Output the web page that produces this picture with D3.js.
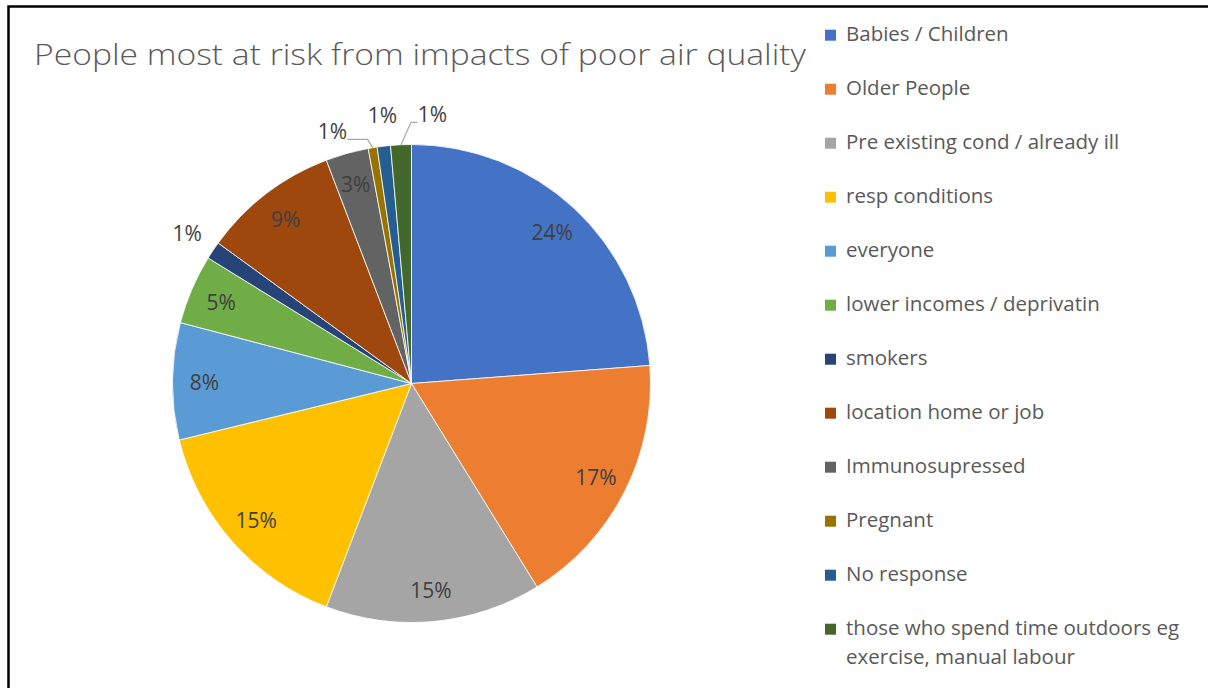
<!DOCTYPE html>
<html>
<head>
<meta charset="utf-8">
<script src="https://cdn.jsdelivr.net/npm/d3@7"></script>
<style>
  html, body { margin: 0; padding: 0; background: #fff; }
  svg { display: block; }
  text { font-family: "Open Sans", "DejaVu Sans", sans-serif; }
</style>
</head>
<body>
<svg id="chart" width="1208" height="688"></svg>
<script>
// Survey answers: who is most at risk from poor air quality (share of responses, %)
const categories = [
  "Babies / Children",
  "Older People",
  "Pre existing cond / already ill",
  "resp conditions",
  "everyone",
  "lower incomes / deprivatin",
  "smokers",
  "location home or job",
  "Immunosupressed",
  "Pregnant",
  "No response",
  "those who spend time outdoors eg exercise, manual labour"
];
const shares = [23.8, 17.4, 14.6, 15.4, 7.9, 4.7, 1.2, 9.2, 2.9, 0.6, 0.9, 1.4];
const palette = [
  "#4472C4", "#ED7D31", "#A5A5A5", "#FFC000", "#5B9BD5", "#70AD47",
  "#264478", "#9E480E", "#636363", "#997300", "#255E91", "#43682B"
];
const chartTitle = "People most at risk from impacts of poor air quality";

const data = categories.map((name, i) => ({ name, value: shares[i], color: palette[i] }));
const total = d3.sum(shares);
const fmtPct = d3.format(".0%");

const svg = d3.select("#chart");
svg.append("rect").attr("width", 1208).attr("height", 688).attr("fill", "#fff");

// frame (left and top edges)
svg.append("path")
  .attr("d", "M8.5,688V6.5H1208")
  .attr("fill", "none")
  .attr("stroke", "#000")
  .attr("stroke-width", 2.5);

// title
svg.append("text")
  .attr("x", 34)
  .attr("y", 65)
  .attr("font-size", 30)
  .attr("font-weight", 300)
  .attr("fill", "#595959")
  .attr("textLength", 772)
  .attr("lengthAdjust", "spacingAndGlyphs")
  .text(chartTitle);

// pie
const cx = 411.5, cy = 383.5, R = 239;
const pie = d3.pie().sort(null).value(d => d.value);
const arcs = pie(data);
const arc = d3.arc().innerRadius(0).outerRadius(R);

const g = svg.append("g").attr("transform", `translate(${cx},${cy})`);
g.selectAll("path.slice")
  .data(arcs)
  .join("path")
  .attr("class", "slice")
  .attr("d", arc)
  .attr("fill", d => d.data.color)
  .attr("stroke", "#fff")
  .attr("stroke-width", 0.8);

// data labels: inside for larger slices, outside for the thin ones
const INNER_R = 207, OUTER_R = 270;
const midAngle = d => (d.startAngle + d.endAngle) / 2;
const isInside = d => d.data.value / total >= 0.02;

const inside = arcs.filter(isInside);
g.selectAll("text.in")
  .data(inside)
  .join("text")
  .attr("class", "in")
  .attr("x", d => INNER_R * Math.sin(midAngle(d)))
  .attr("y", d => -INNER_R * Math.cos(midAngle(d)))
  .attr("text-anchor", "middle")
  .attr("dominant-baseline", "central")
  .attr("font-size", 21)
  .attr("fill", "#404040")
  .text(d => fmtPct(d.data.value / total));

// outside labels: start on the mid angle, then push neighbours apart
const outside = arcs.filter(d => !isInside(d)).map(d => {
  const a = midAngle(d);
  const x = OUTER_R * Math.sin(a), y = -OUTER_R * Math.cos(a);
  return { d, a, x0: x, y0: y, x, y };
});
const minW = 50, minH = 24;
for (let it = 0; it < 300; it++) {
  for (let i = 0; i < outside.length; i++) {
    for (let j = i + 1; j < outside.length; j++) {
      const p = outside[i], q = outside[j];
      const dx = q.x - p.x, dy = q.y - p.y;
      if (Math.abs(dx) < minW && Math.abs(dy) < minH) {
        const s = dx >= 0 ? 1 : -1;
        const push = (minW - Math.abs(dx)) / 2 * 0.5;
        p.x -= s * push; q.x += s * push;
      }
    }
  }
  outside.forEach(o => {
    const lim = Math.min(Math.abs(o.x), OUTER_R - 1);
    o.y = -Math.sqrt(OUTER_R * OUTER_R - lim * lim) * (o.y0 < 0 ? 1 : -1);
  });
}
outside.forEach(o => {
  o.moved = Math.abs(o.x - o.x0) > 6;
  // labels pushed to the left drop a little towards their slice
  if (o.moved && o.x < o.x0) o.y += 6;
});

g.selectAll("path.leader")
  .data(outside.filter(o => o.moved))
  .join("path")
  .attr("class", "leader")
  .attr("fill", "none")
  .attr("stroke", "#a6a6a6")
  .attr("stroke-width", 1.2)
  .attr("d", o => {
    const ax = R * Math.sin(o.a), ay = -R * Math.cos(o.a);
    const side = o.x < ax ? 1 : -1;
    const sx = o.x + side * 15, sy = o.y + 8;
    const ex = ax - side * (side > 0 ? 5 : 10);
    return `M${sx},${sy}H${ex}L${ax},${ay}`;
  });

g.selectAll("text.out")
  .data(outside)
  .join("text")
  .attr("class", "out")
  .attr("x", o => o.x)
  .attr("y", o => o.y)
  .attr("text-anchor", "middle")
  .attr("dominant-baseline", "central")
  .attr("font-size", 21)
  .attr("fill", "#404040")
  .text(o => fmtPct(o.d.data.value / total));

// legend
const legX = 825, legY0 = 40.7, legStep = 54, legMaxW = 350, lineH = 29.5;
const leg = svg.append("g");
data.forEach((d, i) => {
  const by = legY0 + i * legStep;
  leg.append("rect")
    .attr("x", legX)
    .attr("y", by - 11)
    .attr("width", 11)
    .attr("height", 11)
    .attr("fill", d.color);
  const t = leg.append("text")
    .attr("x", legX + 21)
    .attr("y", by)
    .attr("font-size", 20.5)
    .attr("fill", "#595959");
  // wrap long entries onto further lines
  const words = d.name.split(" ");
  let line = [], tspan = t.append("tspan").attr("x", legX + 21).attr("y", by);
  let lineNo = 0;
  words.forEach(w => {
    line.push(w);
    tspan.text(line.join(" "));
    if (tspan.node().getComputedTextLength() > legMaxW && line.length > 1) {
      line.pop();
      tspan.text(line.join(" "));
      line = [w];
      lineNo++;
      tspan = t.append("tspan").attr("x", legX + 21).attr("y", by + lineNo * lineH).text(w);
    }
  });
});
</script>
</body>
</html>
